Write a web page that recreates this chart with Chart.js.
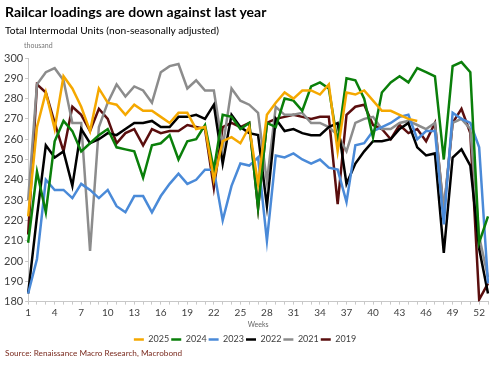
<!DOCTYPE html>
<html>
<head>
<meta charset="utf-8">
<script src="https://cdn.jsdelivr.net/npm/chart.js@4.4.1/dist/chart.umd.min.js"></script>
<style>
html, body { margin: 0; padding: 0; background: #fff; }
#wrap { position: relative; width: 500px; height: 365px; font-family: Lato, "Open Sans", sans-serif; }
#title { position: absolute; left: 5px; top: 3px; font-size: 14px; font-weight: bold; color: #000; white-space: nowrap; }
#subtitle { position: absolute; left: 5px; top: 24px; font-size: 10.2px; color: #000; white-space: nowrap; }
#unit { position: absolute; left: 24px; top: 41px; font-size: 7px; color: #777; }
#source { position: absolute; left: 5px; top: 348px; font-size: 8.2px; color: #7a2a1e; white-space: nowrap; }
#chartBox { position: absolute; left: 0; top: 0; width: 500px; height: 365px; }
</style>
</head>
<body>
<div id="wrap">
  <div id="chartBox"><canvas id="railChart"></canvas></div>
  <div id="title">Railcar loadings are down against last year</div>
  <div id="subtitle">Total Intermodal Units (non-seasonally adjusted)</div>
  <div id="unit">thousand</div>
  <div id="source">Source: Renaissance Macro Research, Macrobond</div>
</div>
<script>
// weekly loadings, thousand units
const weeks = [1, 2, 3, 4, 5, 6, 7, 8, 9, 10, 11, 12, 13, 14, 15, 16, 17, 18, 19, 20,
  21, 22, 23, 24, 25, 26, 27, 28, 29, 30, 31, 32, 33, 34, 35, 36, 37, 38, 39, 40,
  41, 42, 43, 44, 45, 46, 47, 48, 49, 50, 51, 52, 53];

const y2025 = [222, 266, 283, 265, 291, 285, 276, 264, 285, 278, 277, 272, 277, 274, 274, 271, 268, 273, 273, 265,
  266, 240, 259, 261, 258, 266, 238, 272, 278, 283, 280, 284, 284, 282, 287, 254, 283, 282, 284, 279,
  274, 274, 272, 270, 269];
const y2024 = [209, 244, 224, 259, 269, 264, 254, 258, 262, 265, 256, 255, 254, 241, 257, 258, 262, 250, 259, 260,
  267, 245, 272, 271, 265, 268, 226, 268, 266, 280, 279, 274, 286, 288, 285, 258, 290, 289, 280, 261,
  283, 288, 291, 288, 295, 293, 291, 250, 296, 298, 293, 209, 222];
const y2023 = [184, 201, 240, 235, 235, 231, 238, 235, 231, 235, 227, 224, 232, 232, 224, 232, 238, 243, 238, 240,
  245, 245, 220, 237, 248, 247, 251, 210, 252, 251, 253, 250, 248, 250, 246, 245, 229, 257, 258, 264,
  266, 268, 271, 272, 260, 264, 264, 218, 273, 270, 268, 256, 189];
const y2022 = [184, 222, 257, 251, 254, 237, 265, 258, 260, 263, 262, 265, 268, 268, 269, 266, 266, 271, 271, 272,
  270, 277, 248, 272, 266, 263, 262, 227, 270, 264, 265, 263, 262, 262, 266, 268, 238, 248, 254, 259,
  259, 260, 265, 268, 256, 252, 253, 204, 251, 255, 247, 206, 184];
const y2021 = [230, 287, 293, 295, 289, 268, 268, 205, 266, 278, 287, 281, 286, 284, 278, 293, 296, 297, 285, 289,
  284, 284, 256, 285, 279, 277, 273, 239, 276, 272, 272, 273, 268, 268, 266, 262, 254, 268, 270, 271,
  265, 265, 268, 269, 267, 265, 268, 225, 268, 270, 265, 212, 192];
const y2019 = [213, 287, 283, 268, 254, 276, 272, 264, 275, 270, 258, 263, 265, 257, 265, 263, 264, 264, 267, 266,
  265, 236, 266, 268, 266, 268, 226, 268, 270, 271, 272, 271, 270, 271, 271, 228, 272, 276, 277, 267,
  265, 260, 267, 263, 265, 259, 268, 224, 268, 275, 263, 181, 189];

const yTicks = [180, 190, 200, 210, 220, 230, 240, 250, 260, 270, 280, 290, 300];

function series(label, data, color) {
  return {
    label: label,
    data: data,
    borderColor: color,
    backgroundColor: color,
    borderWidth: 2.5,
    pointRadius: 0,
    tension: 0,
    pointStyle: 'line'
  };
}

const ctx = document.getElementById('railChart').getContext('2d');
const railChart = new Chart(ctx, {
  type: 'line',
  data: {
    labels: weeks,
    datasets: [
      series('2025', y2025, '#f5a800'),
      series('2024', y2024, '#0a7f0a'),
      series('2023', y2023, '#4a8ad8'),
      series('2022', y2022, '#000000'),
      series('2021', y2021, '#8c8c8c'),
      series('2019', y2019, '#5a0e0e')
    ]
  },
  options: {
    responsive: true,
    maintainAspectRatio: false,
    animation: false,
    layout: { padding: { top: 58, right: 12, bottom: 11, left: 2 } },
    plugins: {
      legend: {
        position: 'bottom',
        labels: {
          usePointStyle: true,
          pointStyleWidth: 10,
          boxHeight: 8,
          padding: 2,
          color: '#404040',
          font: { family: 'Lato', size: 9 }
        }
      },
      tooltip: { enabled: false }
    },
    scales: {
      x: {
        offset: false,
        grid: { display: true, drawOnChartArea: false, tickLength: 3, color: '#c8c8c8' },
        border: { color: '#c8c8c8' },
        ticks: {
          autoSkip: false,
          maxRotation: 0,
          padding: 2,
          color: '#404040',
          font: { family: 'Lato', size: 10 },
          callback: function (value, index) {
            return index % 3 === 0 ? weeks[index] : '';
          }
        },
        title: {
          display: true,
          text: 'Weeks',
          color: '#666',
          font: { family: 'Lato', size: 7 },
          padding: { top: 0, bottom: 4 }
        }
      },
      y: {
        min: yTicks[0],
        max: yTicks[yTicks.length - 1],
        afterBuildTicks: function (axis) {
          axis.ticks = yTicks.map(function (v) { return { value: v }; });
        },
        grid: { display: true, drawOnChartArea: false, tickLength: 3, color: '#c8c8c8' },
        border: { color: '#c8c8c8' },
        ticks: {
          padding: 2,
          color: '#404040',
          font: { family: 'Lato', size: 11 }
        }
      }
    }
  }
});
</script>
</body>
</html>
